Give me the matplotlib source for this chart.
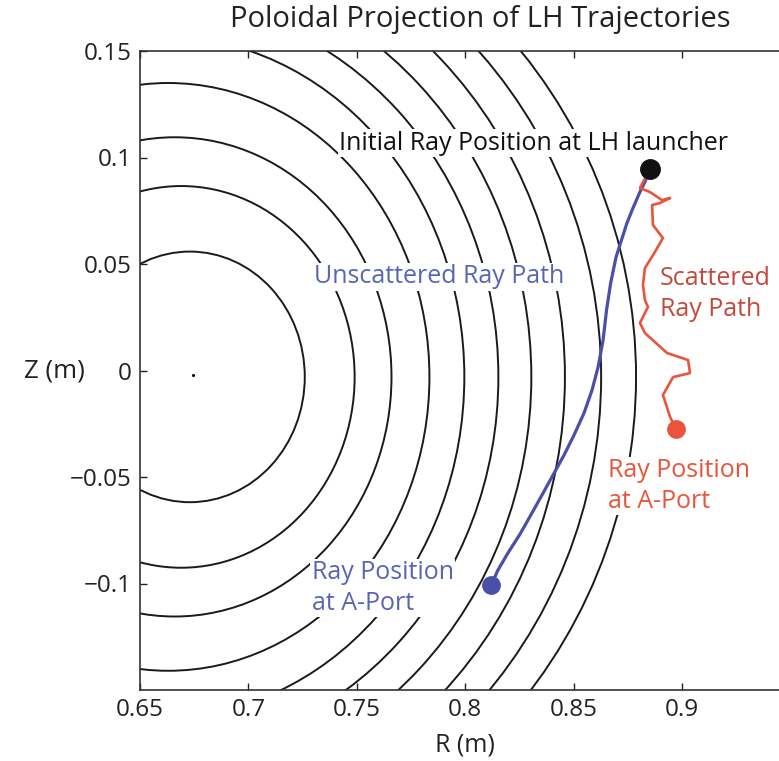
import matplotlib
matplotlib.use("Agg")
import matplotlib.pyplot as plt
from matplotlib.patches import Ellipse

# flux surfaces (outer midplane R, centre R, elongation)
surf_rout = [0.726, 0.749, 0.766, 0.7835, 0.7996, 0.8153, 0.8305, 0.846, 0.8627, 0.8788]
surf_rc = [0.673, 0.669, 0.666, 0.663, 0.660, 0.657, 0.654, 0.651, 0.648, 0.645]
surf_kappa = [1.11, 1.12, 1.125, 1.145, 1.146, 1.117, 1.099, 1.081, 1.054, 1.031]
surf_zc = -0.003
axis_pt = (0.6744, -0.0021)

# unscattered ray
blue_r = [0.8852, 0.8829, 0.8806, 0.8774, 0.8746, 0.8721, 0.8696, 0.8671, 0.8652,
          0.8636, 0.8613, 0.8585, 0.8548, 0.8502, 0.8456, 0.8405, 0.8354, 0.8303,
          0.8253, 0.8197, 0.8151, 0.8124, 0.8119]
blue_z = [0.0946, 0.0885, 0.0838, 0.0763, 0.0692, 0.0613, 0.0533, 0.0411, 0.0284,
          0.0143, 0.0016, -0.0092, -0.0200, -0.0303, -0.0397, -0.0491, -0.0585,
          -0.0678, -0.0768, -0.0857, -0.0937, -0.0998, -0.1007]

# scattered ray
red_r = [0.8852, 0.8806, 0.8852, 0.8908, 0.8945, 0.8898, 0.8862, 0.8866, 0.8912,
         0.8875, 0.8829, 0.8820, 0.8829, 0.8843, 0.8806, 0.8829, 0.8931, 0.9028,
         0.9037, 0.8959, 0.8912, 0.8945, 0.8972]
red_z = [0.0946, 0.0857, 0.0838, 0.0800, 0.0810, 0.0786, 0.0777, 0.0683, 0.0622,
         0.0556, 0.0481, 0.0401, 0.0331, 0.0298, 0.0223, 0.0176, 0.0082, 0.0049,
         -0.0012, -0.0031, -0.0115, -0.0218, -0.0275]

launch_pt = (0.8852, 0.0946)
blue_end = (0.8119, -0.1007)
red_end = (0.8972, -0.0275)

BLUE = "#4a50a8"
BLUE_TXT = "#5a64b4"
RED = "#e9553b"
RED_DARK = "#c4493c"

plt.rcParams['font.family'] = ['Open Sans', 'DejaVu Sans']

fig = plt.figure(figsize=(7.79, 7.61), dpi=100)
ax = fig.add_axes([140 / 779, 71 / 761, 650.4 / 779, 639 / 761])

for rout, rc, k in zip(surf_rout, surf_rc, surf_kappa):
    a = rout - rc
    ax.add_patch(Ellipse((rc, surf_zc), 2 * a, 2 * a * k, fill=False,
                         edgecolor='#1a1a1a', lw=1.4, zorder=1))
ax.plot(*axis_pt, 'o', color='k', ms=1.2, zorder=1)

ax.plot(blue_r, blue_z, color=BLUE, lw=2.3, zorder=3)
ax.plot(red_r, red_z, color=RED, lw=1.9, zorder=3)
ax.plot(*launch_pt, 'o', color='#111111', ms=14, zorder=5)
ax.plot(*blue_end, 'o', color=BLUE, ms=12.5, zorder=5)
ax.plot(*red_end, 'o', color=RED, ms=12.5, zorder=5)

box = dict(facecolor='white', edgecolor='none', pad=1)
fs = 18
ax.text(0.8317, 0.1068, 'Initial Ray Position at LH launcher', ha='center', va='center',
        fontsize=fs, color='#111111', bbox=box, zorder=4)
ax.text(0.7879, 0.0439, 'Unscattered Ray Path', ha='center', va='center',
        fontsize=fs, color=BLUE_TXT, bbox=box, zorder=4)
ax.text(0.8899, 0.0359, 'Scattered\nRay Path', ha='left', va='center',
        fontsize=fs, color=RED_DARK, linespacing=1.3, bbox=box, zorder=4)
ax.text(0.8659, -0.0542, 'Ray Position\nat A-Port', ha='left', va='center',
        fontsize=fs, color=RED, linespacing=1.3, bbox=box, zorder=4)
ax.text(0.7293, -0.1021, 'Ray Position\nat A-Port', ha='left', va='center',
        fontsize=fs, color=BLUE_TXT, linespacing=1.3, bbox=box, zorder=4)

ax.set_xlim(0.65, 0.95)
ax.set_ylim(-0.15, 0.15)
ax.set_xticks([0.65, 0.7, 0.75, 0.8, 0.85, 0.9])
ax.set_xticklabels(['0.65', '0.7', '0.75', '0.8', '0.85', '0.9'])
ax.set_yticks([-0.1, -0.05, 0, 0.05, 0.1, 0.15])
ax.set_yticklabels(['\u22120.1', '\u22120.05', '0', '0.05', '0.1', '0.15'])
ax.tick_params(direction='in', top=True, right=True, length=5, width=1,
               labelsize=17.5, pad=6, colors='#222222')
for s in ax.spines.values():
    s.set_linewidth(1.2)
    s.set_color('#333333')

ax.set_xlabel('R (m)', fontsize=18, color='#222222', labelpad=7)
ax.set_ylabel('Z (m)', fontsize=18.5, color='#222222', rotation=0, ha='center', va='center')
ax.yaxis.set_label_coords(-0.131, 0.5)
fig.text(480 / 779, 1 - 19 / 761, 'Poloidal Projection of LH Trajectories',
         ha='center', va='center', fontsize=21, color='#222222')

fig.savefig('out.png', dpi=100)
